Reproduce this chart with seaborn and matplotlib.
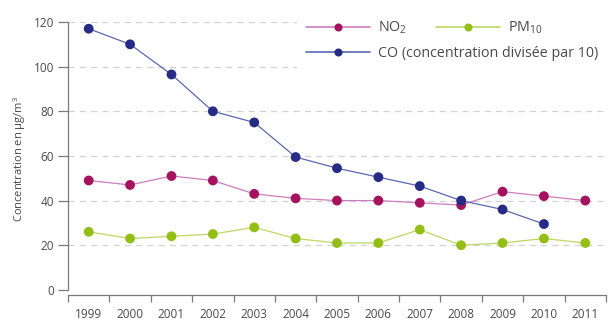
import numpy as np
import pandas as pd
import matplotlib
matplotlib.use("Agg")
import matplotlib.pyplot as plt
from matplotlib.patches import Rectangle
from matplotlib.lines import Line2D
import seaborn as sns

# Annual mean concentrations (µg/m³); CO is divided by 10
years = ["1999", "2000", "2001", "2002", "2003", "2004", "2005",
         "2006", "2007", "2008", "2009", "2010", "2011"]
no2 = [49, 47, 51, 49, 43, 41, 40, 40, 39, 38, 44, 42, 40]
pm10 = [26, 23, 24, 25, 28, 23, 21, 21, 27, 20, 21, 23, 21]
co = [117, 110, 96.5, 80, 75, 59.5, 54.5, 50.5, 46.5, 40, 36, 29.5, np.nan]

series_names = ["NO$_2$", "PM$_{10}$", "CO (concentration divisée par 10)"]
series_values = [no2, pm10, co]
line_colors = ["#cd7dbd", "#bdd862", "#5a67b4"]
marker_colors = ["#a5135f", "#93be16", "#262c86"]
y_ticks = [0, 20, 40, 60, 80, 100, 120]

sns.set_theme(style="white")
plt.rcParams["font.family"] = ["Open Sans", "DejaVu Sans"]
plt.rcParams["mathtext.fontset"] = "custom"
plt.rcParams["mathtext.rm"] = "Open Sans"
plt.rcParams["mathtext.it"] = "Open Sans:italic"
plt.rcParams["mathtext.bf"] = "Open Sans:bold"
plt.rcParams["mathtext.default"] = "regular"
text_color = "#4a4a4a"
axis_color = "#7a7a7a"

rows = []
for name, vals in zip(series_names, series_values):
    for i, (yr, v) in enumerate(zip(years, vals)):
        rows.append({"idx": i, "year": yr, "serie": name, "value": v})
df = pd.DataFrame(rows).dropna()

fig = plt.figure(figsize=(6.14, 3.22), dpi=100)
ax = fig.add_axes([68 / 614, 27 / 322, 538 / 614, 273 / 322])

pal_line = dict(zip(series_names, line_colors))
pal_mark = dict(zip(series_names, marker_colors))

sns.lineplot(data=df, x="idx", y="value", hue="serie", palette=pal_line,
             linewidth=0.9, legend=False, ax=ax, zorder=3)
sns.scatterplot(data=df, x="idx", y="value", hue="serie", palette=pal_mark,
                s=50, linewidth=0, legend=False, ax=ax, zorder=4)

# axes limits: bottom axis line sits slightly below zero
ax.set_xlim(-0.5, len(years) - 0.5)
ax.set_ylim(-2.3, 120)

# dashed horizontal grid
for t in y_ticks[1:]:
    ax.axhline(t, color="#d2d2d2", lw=0.9, ls=(0, (5, 4)), zorder=1)

# spines
for s in ["top", "right"]:
    ax.spines[s].set_visible(False)
ax.spines["left"].set_bounds(0, 120)
ax.spines["left"].set_color(axis_color)
ax.spines["bottom"].set_color(axis_color)
ax.spines["left"].set_linewidth(0.9)
ax.spines["bottom"].set_linewidth(0.9)

ax.set_yticks(y_ticks)
ax.set_yticklabels([str(t) for t in y_ticks])
ax.tick_params(axis="y", direction="out", length=7, width=0.9,
               color=axis_color, labelsize=8.5, labelcolor=text_color, pad=3, left=True)

# year boundaries as ticks, labels centred in each band
ax.set_xticks(np.arange(-0.5, len(years), 1.0))
ax.set_xticklabels([])
ax.set_xticks(np.arange(len(years)), minor=True)
ax.set_xticklabels(years, minor=True)
ax.tick_params(axis="x", which="major", direction="out", length=5, width=0.9,
               color=axis_color, bottom=True)
ax.tick_params(axis="x", which="minor", length=0, labelsize=8.5,
               labelcolor=text_color, pad=9, bottom=True)

ax.set_xlabel("")
ax.set_ylabel("Concentration en µg/m$^3$", fontsize=8, color=text_color, labelpad=4)

# white panel behind the legend
ax.add_patch(Rectangle((297 / 614, 252 / 322), 317 / 614, 70 / 322,
                       transform=fig.transFigure, facecolor="white",
                       edgecolor="none", zorder=2))

def handle(i):
    return Line2D([], [], color=line_colors[i], lw=1.2, marker="o",
                  markersize=5.8, markerfacecolor=marker_colors[i],
                  markeredgewidth=0)

leg1 = fig.legend(handles=[handle(0), handle(1)], labels=series_names[:2],
                  ncol=2, loc="upper left", bbox_to_anchor=(300 / 614, 1 - 14 / 322),
                  frameon=False, fontsize=10.3, handlelength=4.5,
                  handletextpad=0.55, columnspacing=2.0, borderaxespad=0,
                  labelcolor=text_color)
leg2 = fig.legend(handles=[handle(2)], labels=series_names[2:],
                  loc="upper left", bbox_to_anchor=(300 / 614, 1 - 40 / 322),
                  frameon=False, fontsize=10.3, handlelength=4.5,
                  handletextpad=0.55, borderaxespad=0, labelcolor=text_color)

fig.savefig("out.png", dpi=100)
